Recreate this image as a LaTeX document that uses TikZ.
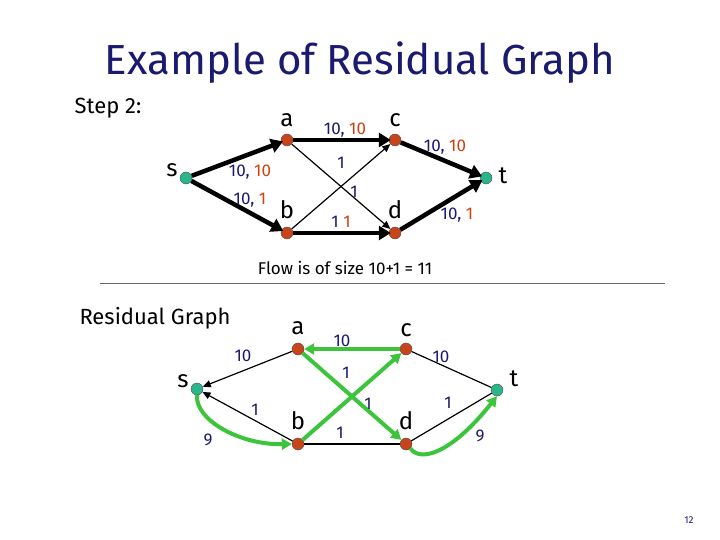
\documentclass[tikz,border=0pt]{standalone}
\usepackage{fontspec}
\setmainfont{Fira Sans}
\usetikzlibrary{arrows.meta}
\definecolor{dotred}{HTML}{C8441A}
\definecolor{dotteal}{HTML}{2AB58A}
\definecolor{capblue}{HTML}{1A1A6E}
\definecolor{flowred}{HTML}{D04010}
\definecolor{resgreen}{HTML}{3CC43C}
\tikzset{
  vtx/.style={circle, draw=black!70, fill=dotred, inner sep=0pt, minimum size=12pt},
  term/.style={vtx, fill=dotteal},
  lbl/.style={font=\fontsize{24}{24}\selectfont},
  caplbl/.style={text=capblue, font=\fontsize{17}{17}\selectfont},
  flowedge/.style={line width=4.5pt, -{Triangle[length=12pt,width=14pt]}, shorten >=-2pt},
  thinedge/.style={line width=1.2pt, -{Triangle[length=8pt,width=7pt]}},
  resedge/.style={draw=resgreen, line width=4pt, -{Triangle[length=10pt,width=11pt]}},
  plainedge/.style={line width=1.2pt}
}
\newcommand{\fl}[2]{#1, \textcolor{flowred}{#2}}
\begin{document}
\begin{tikzpicture}[x=1pt,y=-1pt]
  \useasboundingbox (0,0) rectangle (720,540);
  \node at (360,63) {\fontsize{42}{42}\selectfont\color{capblue}Example of Residual Graph};
  \node at (108,108) {\fontsize{22}{22}\selectfont Step 2:};

  % flow network
  \node[term] (s) at (186,178) {};
  \node[vtx]  (a) at (287,140) {};
  \node[vtx]  (c) at (395,140) {};
  \node[vtx]  (b) at (287,233) {};
  \node[vtx]  (d) at (395,233) {};
  \node[term] (t) at (486,178) {};
  \draw[flowedge] (s) -- (a);
  \draw[flowedge] (s) -- (b);
  \draw[flowedge] (a) -- (c);
  \draw[flowedge] (b) -- (d);
  \draw[flowedge] (c) -- (t);
  \draw[flowedge] (d) -- (t);
  \draw[thinedge] (a) -- (d);
  \draw[thinedge] (b) -- (c);
  \node[lbl] at (172,170) {s};
  \node[lbl] at (287,120) {a};
  \node[lbl] at (395,120) {c};
  \node[lbl] at (287,210) {b};
  \node[lbl] at (395,210) {d};
  \node[lbl] at (503,176) {t};
  \node[caplbl] (lsa) at (250,172) {\fl{10}{10}};
  \node[caplbl] (lsb) at (250,200) {\fl{10}{1}};
  \node[caplbl] (lac) at (345,130) {\fl{10}{10}};
  \node[caplbl] (lct) at (445,147) {\fl{10}{10}};
  \node[caplbl] (lbc) at (341,163) {1};
  \node[caplbl] (lad) at (354,192) {1};
  \node[caplbl] (lbd) at (341,222) {1\ \textcolor{flowred}{1}};
  \node[caplbl] (ldt) at (457,215) {\fl{10}{1}};

  \node at (345,268) {\fontsize{17}{17}\selectfont Flow is of size 10+1 = 11};
  \draw[line width=0.6pt, black!60] (100,283) -- (665,283);
  \node at (155,318) {\fontsize{22}{22}\selectfont Residual Graph};

  % residual graph
  \node[term] (rs) at (197,389) {};
  \node[vtx]  (ra) at (298,349) {};
  \node[vtx]  (rc) at (406,349) {};
  \node[vtx]  (rb) at (298,444) {};
  \node[vtx]  (rd) at (406,444) {};
  \node[term] (rt) at (497,390) {};
  \draw[thinedge] (ra) -- (rs);
  \draw[thinedge] (rb) -- (rs);
  \draw[plainedge] (rb) -- (rd);
  \draw[plainedge] (rc) -- (rt);
  \draw[plainedge] (rd) -- (rt);
  \draw[resedge] (rc) -- (ra);
  \draw[resedge] (rb) -- (rc);
  \draw[resedge] (ra) -- (rd);
  \draw[resedge] (rs.south) .. controls (195,420) and (240,445) .. (rb.west);
  \draw[resedge] (rd.south east) .. controls (420,462) and (450,455) .. (rt.south);
  \node[lbl] at (183,381) {s};
  \node[lbl] at (298,328) {a};
  \node[lbl] at (406,330) {c};
  \node[lbl] at (298,421) {b};
  \node[lbl] at (406,421) {d};
  \node[lbl] at (514,379) {t};
  \node[caplbl] at (243,356) {10};
  \node[caplbl] at (255,410) {1};
  \node[caplbl] at (208,440) {9};
  \node[caplbl] at (342,341) {10};
  \node[caplbl] at (346,373) {1};
  \node[caplbl] at (368,404) {1};
  \node[caplbl] at (340,433) {1};
  \node[caplbl] at (441,357) {10};
  \node[caplbl] at (448,403) {1};
  \node[caplbl] at (480,436) {9};

  \node at (689,520) {\fontsize{10}{10}\selectfont\color{capblue}12};
\end{tikzpicture}
\end{document}
